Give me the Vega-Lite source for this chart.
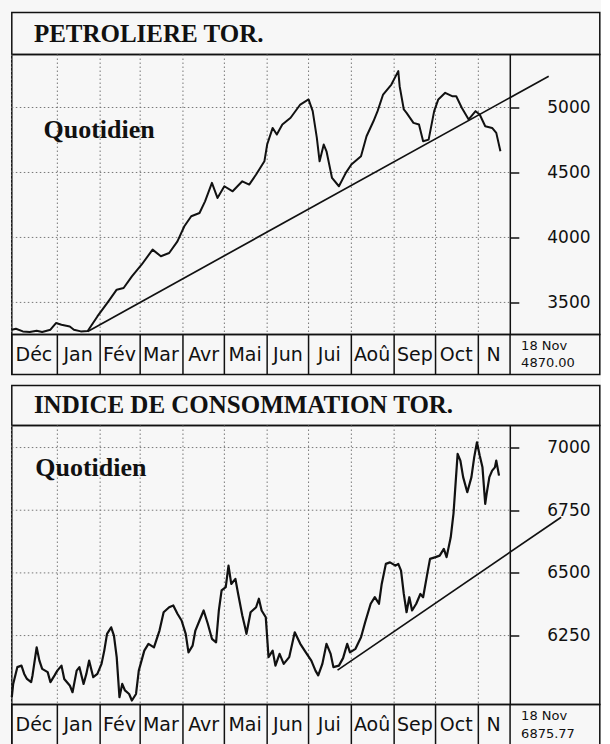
{
 "$schema": "https://vega.github.io/schema/vega-lite/v6.json",
 "background": "#f7f7f7",
 "padding": {"left": 9.8, "top": 11.5, "right": 0, "bottom": 0},
 "spacing": 8,
 "config": {"view": {"stroke": "#111", "strokeWidth": 1.5}},
 "datasets": {
  "months": [
   {"m": "Déc", "start": "1995-11-29", "mid": "1995-12-15"},
   {"m": "Jan", "start": "1996-01-01", "mid": "1996-01-16"},
   {"m": "Fév", "start": "1996-02-01", "mid": "1996-02-15"},
   {"m": "Mar", "start": "1996-03-01", "mid": "1996-03-16"},
   {"m": "Avr", "start": "1996-04-01", "mid": "1996-04-16"},
   {"m": "Mai", "start": "1996-05-01", "mid": "1996-05-16"},
   {"m": "Jun", "start": "1996-06-01", "mid": "1996-06-16"},
   {"m": "Jui", "start": "1996-07-01", "mid": "1996-07-16"},
   {"m": "Aoû", "start": "1996-08-01", "mid": "1996-08-16"},
   {"m": "Sep", "start": "1996-09-01", "mid": "1996-09-16"},
   {"m": "Oct", "start": "1996-10-01", "mid": "1996-10-16"},
   {"m": "N", "start": "1996-11-01", "mid": "1996-11-12"}
  ],
  "petro": [
   {"d": "1995-11-29", "v": 3290}, {"d": "1995-12-02", "v": 3297}, {"d": "1995-12-07", "v": 3277}, {"d": "1995-12-12", "v": 3272},
   {"d": "1995-12-17", "v": 3282}, {"d": "1995-12-21", "v": 3272}, {"d": "1995-12-27", "v": 3290}, {"d": "1995-12-31", "v": 3341},
   {"d": "1996-01-04", "v": 3328}, {"d": "1996-01-10", "v": 3315}, {"d": "1996-01-13", "v": 3290}, {"d": "1996-01-18", "v": 3277},
   {"d": "1996-01-23", "v": 3280}, {"d": "1996-01-30", "v": 3392}, {"d": "1996-02-07", "v": 3508}, {"d": "1996-02-13", "v": 3598},
   {"d": "1996-02-18", "v": 3611}, {"d": "1996-02-24", "v": 3700}, {"d": "1996-03-02", "v": 3790}, {"d": "1996-03-10", "v": 3906},
   {"d": "1996-03-16", "v": 3855}, {"d": "1996-03-22", "v": 3880}, {"d": "1996-03-28", "v": 3970}, {"d": "1996-04-02", "v": 4086},
   {"d": "1996-04-07", "v": 4163}, {"d": "1996-04-13", "v": 4188}, {"d": "1996-04-17", "v": 4278}, {"d": "1996-04-22", "v": 4420},
   {"d": "1996-04-26", "v": 4304}, {"d": "1996-05-01", "v": 4394}, {"d": "1996-05-07", "v": 4355}, {"d": "1996-05-14", "v": 4432},
   {"d": "1996-05-19", "v": 4407}, {"d": "1996-05-24", "v": 4484}, {"d": "1996-05-30", "v": 4586}, {"d": "1996-06-01", "v": 4715},
   {"d": "1996-06-05", "v": 4843}, {"d": "1996-06-08", "v": 4792}, {"d": "1996-06-12", "v": 4869}, {"d": "1996-06-18", "v": 4921},
   {"d": "1996-06-25", "v": 5023}, {"d": "1996-07-01", "v": 5062}, {"d": "1996-07-04", "v": 4972}, {"d": "1996-07-07", "v": 4767},
   {"d": "1996-07-09", "v": 4586}, {"d": "1996-07-12", "v": 4715}, {"d": "1996-07-14", "v": 4663}, {"d": "1996-07-18", "v": 4458},
   {"d": "1996-07-23", "v": 4394}, {"d": "1996-07-28", "v": 4497}, {"d": "1996-08-01", "v": 4561}, {"d": "1996-08-08", "v": 4625},
   {"d": "1996-08-12", "v": 4779}, {"d": "1996-08-17", "v": 4894}, {"d": "1996-08-20", "v": 4972}, {"d": "1996-08-24", "v": 5100},
   {"d": "1996-08-30", "v": 5177}, {"d": "1996-09-04", "v": 5280}, {"d": "1996-09-05", "v": 5164}, {"d": "1996-09-08", "v": 4985},
   {"d": "1996-09-10", "v": 4959}, {"d": "1996-09-15", "v": 4882}, {"d": "1996-09-19", "v": 4869}, {"d": "1996-09-22", "v": 4740},
   {"d": "1996-09-26", "v": 4753}, {"d": "1996-09-30", "v": 4972}, {"d": "1996-10-03", "v": 5062}, {"d": "1996-10-08", "v": 5113},
   {"d": "1996-10-13", "v": 5087}, {"d": "1996-10-16", "v": 5087}, {"d": "1996-10-20", "v": 4998}, {"d": "1996-10-25", "v": 4908},
   {"d": "1996-10-30", "v": 4972}, {"d": "1996-11-02", "v": 4946}, {"d": "1996-11-06", "v": 4856}, {"d": "1996-11-11", "v": 4843},
   {"d": "1996-11-14", "v": 4805}, {"d": "1996-11-17", "v": 4663}
  ],
  "petroTrend": [{"d": "1996-01-23", "v": 3277}, {"d": "1996-12-22", "v": 5241}],
  "conso": [
   {"d": "1995-11-29", "v": 6004}, {"d": "1995-11-30", "v": 6057}, {"d": "1995-12-03", "v": 6124}, {"d": "1995-12-06", "v": 6130},
   {"d": "1995-12-08", "v": 6097}, {"d": "1995-12-10", "v": 6077}, {"d": "1995-12-13", "v": 6064}, {"d": "1995-12-14", "v": 6091},
   {"d": "1995-12-17", "v": 6203}, {"d": "1995-12-19", "v": 6150}, {"d": "1995-12-21", "v": 6117}, {"d": "1995-12-25", "v": 6104},
   {"d": "1995-12-27", "v": 6064}, {"d": "1995-12-30", "v": 6091}, {"d": "1996-01-01", "v": 6110}, {"d": "1996-01-04", "v": 6130},
   {"d": "1996-01-06", "v": 6077}, {"d": "1996-01-10", "v": 6051}, {"d": "1996-01-12", "v": 6024}, {"d": "1996-01-15", "v": 6110},
   {"d": "1996-01-17", "v": 6124}, {"d": "1996-01-20", "v": 6057}, {"d": "1996-01-22", "v": 6097}, {"d": "1996-01-24", "v": 6150},
   {"d": "1996-01-27", "v": 6084}, {"d": "1996-01-30", "v": 6097}, {"d": "1996-02-02", "v": 6137}, {"d": "1996-02-04", "v": 6190},
   {"d": "1996-02-06", "v": 6257}, {"d": "1996-02-09", "v": 6283}, {"d": "1996-02-11", "v": 6250}, {"d": "1996-02-13", "v": 6164},
   {"d": "1996-02-15", "v": 6004}, {"d": "1996-02-17", "v": 6057}, {"d": "1996-02-19", "v": 6031}, {"d": "1996-02-22", "v": 6017},
   {"d": "1996-02-24", "v": 5991}, {"d": "1996-02-27", "v": 6017}, {"d": "1996-02-29", "v": 6110}, {"d": "1996-03-04", "v": 6190},
   {"d": "1996-03-07", "v": 6217}, {"d": "1996-03-11", "v": 6203}, {"d": "1996-03-15", "v": 6270}, {"d": "1996-03-18", "v": 6343},
   {"d": "1996-03-22", "v": 6363}, {"d": "1996-03-25", "v": 6370}, {"d": "1996-03-28", "v": 6337}, {"d": "1996-03-31", "v": 6310},
   {"d": "1996-04-03", "v": 6257}, {"d": "1996-04-05", "v": 6183}, {"d": "1996-04-08", "v": 6210}, {"d": "1996-04-10", "v": 6270},
   {"d": "1996-04-13", "v": 6310}, {"d": "1996-04-16", "v": 6350}, {"d": "1996-04-19", "v": 6297}, {"d": "1996-04-22", "v": 6237},
   {"d": "1996-04-25", "v": 6223}, {"d": "1996-04-27", "v": 6350}, {"d": "1996-04-29", "v": 6430}, {"d": "1996-05-02", "v": 6443},
   {"d": "1996-05-04", "v": 6529}, {"d": "1996-05-06", "v": 6456}, {"d": "1996-05-09", "v": 6476}, {"d": "1996-05-11", "v": 6416},
   {"d": "1996-05-14", "v": 6330}, {"d": "1996-05-16", "v": 6283}, {"d": "1996-05-17", "v": 6257}, {"d": "1996-05-20", "v": 6343},
   {"d": "1996-05-24", "v": 6363}, {"d": "1996-05-26", "v": 6397}, {"d": "1996-05-28", "v": 6350}, {"d": "1996-05-31", "v": 6323},
   {"d": "1996-06-02", "v": 6164}, {"d": "1996-06-05", "v": 6190}, {"d": "1996-06-07", "v": 6130}, {"d": "1996-06-10", "v": 6177},
   {"d": "1996-06-13", "v": 6137}, {"d": "1996-06-17", "v": 6164}, {"d": "1996-06-21", "v": 6263}, {"d": "1996-06-25", "v": 6217},
   {"d": "1996-06-29", "v": 6183}, {"d": "1996-07-03", "v": 6150}, {"d": "1996-07-06", "v": 6110}, {"d": "1996-07-08", "v": 6091},
   {"d": "1996-07-11", "v": 6137}, {"d": "1996-07-14", "v": 6217}, {"d": "1996-07-17", "v": 6177}, {"d": "1996-07-19", "v": 6124},
   {"d": "1996-07-23", "v": 6130}, {"d": "1996-07-26", "v": 6160}, {"d": "1996-07-29", "v": 6217}, {"d": "1996-07-31", "v": 6183},
   {"d": "1996-08-04", "v": 6197}, {"d": "1996-08-08", "v": 6243}, {"d": "1996-08-11", "v": 6303}, {"d": "1996-08-15", "v": 6377},
   {"d": "1996-08-18", "v": 6403}, {"d": "1996-08-21", "v": 6377}, {"d": "1996-08-23", "v": 6456}, {"d": "1996-08-26", "v": 6536},
   {"d": "1996-08-29", "v": 6542}, {"d": "1996-09-02", "v": 6529}, {"d": "1996-09-04", "v": 6536}, {"d": "1996-09-06", "v": 6509},
   {"d": "1996-09-08", "v": 6416}, {"d": "1996-09-10", "v": 6343}, {"d": "1996-09-12", "v": 6403}, {"d": "1996-09-14", "v": 6350},
   {"d": "1996-09-17", "v": 6377}, {"d": "1996-09-20", "v": 6416}, {"d": "1996-09-22", "v": 6403}, {"d": "1996-09-25", "v": 6496},
   {"d": "1996-09-27", "v": 6556}, {"d": "1996-10-01", "v": 6563}, {"d": "1996-10-04", "v": 6569}, {"d": "1996-10-07", "v": 6596},
   {"d": "1996-10-09", "v": 6563}, {"d": "1996-10-12", "v": 6642}, {"d": "1996-10-14", "v": 6736}, {"d": "1996-10-15", "v": 6815},
   {"d": "1996-10-17", "v": 6975}, {"d": "1996-10-19", "v": 6948}, {"d": "1996-10-21", "v": 6882}, {"d": "1996-10-24", "v": 6822},
   {"d": "1996-10-27", "v": 6882}, {"d": "1996-10-29", "v": 6961}, {"d": "1996-10-31", "v": 7021}, {"d": "1996-11-02", "v": 6968},
   {"d": "1996-11-04", "v": 6921}, {"d": "1996-11-06", "v": 6775}, {"d": "1996-11-07", "v": 6815}, {"d": "1996-11-09", "v": 6882},
   {"d": "1996-11-11", "v": 6908}, {"d": "1996-11-13", "v": 6921}, {"d": "1996-11-14", "v": 6948}, {"d": "1996-11-16", "v": 6888}
  ],
  "consoTrend": [{"d": "1996-07-22", "v": 6112}, {"d": "1996-12-31", "v": 6722}]
 },
 "vconcat": [
  {
   "spacing": 0,
   "bounds": "flush",
   "vconcat": [
    {
     "width": 588, "height": 42,
     "data": {"values": [{"t": "PETROLIERE TOR."}]},
     "mark": {"type": "text", "align": "left", "baseline": "middle", "font": "Liberation Serif", "fontWeight": "bold", "fontSize": 25, "color": "#111"},
     "encoding": {
      "x": {"datum": {"year": 1995, "month": 12, "date": 15, "utc": true}, "type": "temporal", "scale": {"type": "utc", "domain": [{"year": 1995, "month": 11, "date": 29, "utc": true}, {"year": 1997, "month": 1, "date": 28, "utc": true}]}, "axis": null},
      "y": {"datum": 0, "type": "quantitative", "scale": {"domain": [-1, 1]}, "axis": null},
      "text": {"field": "t", "type": "nominal"}
     }
    },
    {
     "width": 588, "height": 280,
     "layer": [
      {
       "data": {"name": "months"},
       "mark": {"type": "rule", "stroke": "#777", "strokeWidth": 1, "strokeDash": [1.5, 2.5]},
       "encoding": {"x": {"field": "start", "type": "temporal", "scale": {"type": "utc", "domain": [{"year": 1995, "month": 11, "date": 29, "utc": true}, {"year": 1997, "month": 1, "date": 28, "utc": true}]}, "axis": null}}
      },
      {
       "data": {"values": [{"v": 3500}, {"v": 4000}, {"v": 4500}, {"v": 5000}]},
       "mark": {"type": "rule", "stroke": "#777", "strokeWidth": 1, "strokeDash": [1.5, 2.5]},
       "encoding": {
        "x": {"datum": {"year": 1995, "month": 11, "date": 29, "utc": true}, "type": "temporal", "scale": {"type": "utc", "domain": [{"year": 1995, "month": 11, "date": 29, "utc": true}, {"year": 1997, "month": 1, "date": 28, "utc": true}]}, "axis": null},
        "x2": {"datum": {"year": 1996, "month": 11, "date": 24, "utc": true}},
        "y": {"field": "v", "type": "quantitative", "scale": {"domain": [3253, 5408], "nice": false, "zero": false}, "axis": {"orient": "right", "offset": -90, "values": [3500, 4000, 4500, 5000], "format": "d", "title": null, "grid": false, "domainColor": "#111", "domainWidth": 1.5, "tickColor": "#111", "tickSize": 9, "tickWidth": 1.5, "labelFont": "DejaVu Sans", "labelFontSize": 17, "labelColor": "#111", "labelPadding": 28, "labelFlush": false}}
       }
      },
      {
       "data": {"name": "petro"},
       "mark": {"type": "line", "stroke": "#111", "strokeWidth": 2, "strokeJoin": "round"},
       "encoding": {
        "x": {"field": "d", "type": "temporal", "scale": {"type": "utc", "domain": [{"year": 1995, "month": 11, "date": 29, "utc": true}, {"year": 1997, "month": 1, "date": 28, "utc": true}]}, "axis": null},
        "y": {"field": "v", "type": "quantitative", "scale": {"domain": [3253, 5408], "nice": false, "zero": false}, "axis": {"orient": "right", "offset": -90, "values": [3500, 4000, 4500, 5000], "format": "d", "title": null, "grid": false, "domainColor": "#111", "domainWidth": 1.5, "tickColor": "#111", "tickSize": 9, "tickWidth": 1.5, "labelFont": "DejaVu Sans", "labelFontSize": 17, "labelColor": "#111", "labelPadding": 28, "labelFlush": false}}
       }
      },
      {
       "data": {"name": "petroTrend"},
       "mark": {"type": "line", "stroke": "#111", "strokeWidth": 1.7, "strokeJoin": "round"},
       "encoding": {
        "x": {"field": "d", "type": "temporal", "scale": {"type": "utc", "domain": [{"year": 1995, "month": 11, "date": 29, "utc": true}, {"year": 1997, "month": 1, "date": 28, "utc": true}]}, "axis": null},
        "y": {"field": "v", "type": "quantitative", "scale": {"domain": [3253, 5408], "nice": false, "zero": false}, "axis": {"orient": "right", "offset": -90, "values": [3500, 4000, 4500, 5000], "format": "d", "title": null, "grid": false, "domainColor": "#111", "domainWidth": 1.5, "tickColor": "#111", "tickSize": 9, "tickWidth": 1.5, "labelFont": "DejaVu Sans", "labelFontSize": 17, "labelColor": "#111", "labelPadding": 28, "labelFlush": false}}
       }
      },
      {
       "data": {"values": [{"t": "Quotidien"}]},
       "mark": {"type": "text", "align": "left", "baseline": "alphabetic", "font": "Liberation Serif", "fontWeight": "bold", "fontSize": 26, "color": "#111"},
       "encoding": {
        "x": {"datum": {"year": 1995, "month": 12, "date": 22, "utc": true}, "type": "temporal", "scale": {"type": "utc", "domain": [{"year": 1995, "month": 11, "date": 29, "utc": true}, {"year": 1997, "month": 1, "date": 28, "utc": true}]}, "axis": null},
        "y": {"datum": 4767, "type": "quantitative", "scale": {"domain": [3253, 5408], "nice": false, "zero": false}, "axis": {"orient": "right", "offset": -90, "values": [3500, 4000, 4500, 5000], "format": "d", "title": null, "grid": false, "domainColor": "#111", "domainWidth": 1.5, "tickColor": "#111", "tickSize": 9, "tickWidth": 1.5, "labelFont": "DejaVu Sans", "labelFontSize": 17, "labelColor": "#111", "labelPadding": 28, "labelFlush": false}},
        "text": {"field": "t", "type": "nominal"}
       }
      }
     ]
    },
    {
     "width": 588, "height": 40,
     "layer": [
      {
       "data": {"name": "months"},
       "mark": {"type": "rule", "stroke": "#111", "strokeWidth": 1.5},
       "encoding": {"x": {"field": "start", "type": "temporal", "scale": {"type": "utc", "domain": [{"year": 1995, "month": 11, "date": 29, "utc": true}, {"year": 1997, "month": 1, "date": 28, "utc": true}]}, "axis": null}}
      },
      {
       "data": {"values": [{"lbl": "18 Nov\n4870.00"}]},
       "mark": {"type": "rule", "stroke": "#111", "strokeWidth": 1.5},
       "encoding": {"x": {"datum": {"year": 1996, "month": 11, "date": 24, "utc": true}, "type": "temporal", "scale": {"type": "utc", "domain": [{"year": 1995, "month": 11, "date": 29, "utc": true}, {"year": 1997, "month": 1, "date": 28, "utc": true}]}, "axis": null}}
      },
      {
       "data": {"name": "months"},
       "mark": {"type": "text", "baseline": "middle", "align": "center", "font": "DejaVu Sans", "fontSize": 19, "color": "#111"},
       "encoding": {
        "x": {"field": "mid", "type": "temporal", "scale": {"type": "utc", "domain": [{"year": 1995, "month": 11, "date": 29, "utc": true}, {"year": 1997, "month": 1, "date": 28, "utc": true}]}, "axis": null},
        "y": {"datum": 0, "type": "quantitative", "scale": {"domain": [-1, 1]}, "axis": null},
        "text": {"field": "m", "type": "nominal"}
       }
      },
      {
       "data": {"values": [{"lbl": "18 Nov\n4870.00"}]},
       "mark": {"type": "text", "baseline": "middle", "align": "left", "font": "DejaVu Sans", "fontSize": 13, "lineHeight": 18, "lineBreak": "\n", "dy": -9, "color": "#111"},
       "encoding": {
        "x": {"datum": {"year": 1996, "month": 12, "date": 2, "utc": true}, "type": "temporal", "scale": {"type": "utc", "domain": [{"year": 1995, "month": 11, "date": 29, "utc": true}, {"year": 1997, "month": 1, "date": 28, "utc": true}]}, "axis": null},
        "y": {"datum": 0, "type": "quantitative", "scale": {"domain": [-1, 1]}, "axis": null},
        "text": {"field": "lbl", "type": "nominal"}
       }
      }
     ]
    }
   ]
  },
  {
   "spacing": 0,
   "bounds": "flush",
   "vconcat": [
    {
     "width": 588, "height": 40,
     "data": {"values": [{"t": "INDICE DE CONSOMMATION TOR."}]},
     "mark": {"type": "text", "align": "left", "baseline": "middle", "font": "Liberation Serif", "fontWeight": "bold", "fontSize": 25, "color": "#111"},
     "encoding": {
      "x": {"datum": {"year": 1995, "month": 12, "date": 15, "utc": true}, "type": "temporal", "scale": {"type": "utc", "domain": [{"year": 1995, "month": 11, "date": 29, "utc": true}, {"year": 1997, "month": 1, "date": 28, "utc": true}]}, "axis": null},
      "y": {"datum": 0, "type": "quantitative", "scale": {"domain": [-1, 1]}, "axis": null},
      "text": {"field": "t", "type": "nominal"}
     }
    },
    {
     "width": 588, "height": 279,
     "layer": [
      {
       "data": {"name": "months"},
       "mark": {"type": "rule", "stroke": "#777", "strokeWidth": 1, "strokeDash": [1.5, 2.5]},
       "encoding": {"x": {"field": "start", "type": "temporal", "scale": {"type": "utc", "domain": [{"year": 1995, "month": 11, "date": 29, "utc": true}, {"year": 1997, "month": 1, "date": 28, "utc": true}]}, "axis": null}}
      },
      {
       "data": {"values": [{"v": 6250}, {"v": 6500}, {"v": 6750}, {"v": 7000}]},
       "mark": {"type": "rule", "stroke": "#777", "strokeWidth": 1, "strokeDash": [1.5, 2.5]},
       "encoding": {
        "x": {"datum": {"year": 1995, "month": 11, "date": 29, "utc": true}, "type": "temporal", "scale": {"type": "utc", "domain": [{"year": 1995, "month": 11, "date": 29, "utc": true}, {"year": 1997, "month": 1, "date": 28, "utc": true}]}, "axis": null},
        "x2": {"datum": {"year": 1996, "month": 11, "date": 24, "utc": true}},
        "y": {"field": "v", "type": "quantitative", "scale": {"domain": [5975, 7088], "nice": false, "zero": false}, "axis": {"orient": "right", "offset": -90, "values": [6250, 6500, 6750, 7000], "format": "d", "title": null, "grid": false, "domainColor": "#111", "domainWidth": 1.5, "tickColor": "#111", "tickSize": 9, "tickWidth": 1.5, "labelFont": "DejaVu Sans", "labelFontSize": 17, "labelColor": "#111", "labelPadding": 28, "labelFlush": false}}
       }
      },
      {
       "data": {"name": "conso"},
       "mark": {"type": "line", "stroke": "#111", "strokeWidth": 2.2, "strokeJoin": "round"},
       "encoding": {
        "x": {"field": "d", "type": "temporal", "scale": {"type": "utc", "domain": [{"year": 1995, "month": 11, "date": 29, "utc": true}, {"year": 1997, "month": 1, "date": 28, "utc": true}]}, "axis": null},
        "y": {"field": "v", "type": "quantitative", "scale": {"domain": [5975, 7088], "nice": false, "zero": false}, "axis": {"orient": "right", "offset": -90, "values": [6250, 6500, 6750, 7000], "format": "d", "title": null, "grid": false, "domainColor": "#111", "domainWidth": 1.5, "tickColor": "#111", "tickSize": 9, "tickWidth": 1.5, "labelFont": "DejaVu Sans", "labelFontSize": 17, "labelColor": "#111", "labelPadding": 28, "labelFlush": false}}
       }
      },
      {
       "data": {"name": "consoTrend"},
       "mark": {"type": "line", "stroke": "#111", "strokeWidth": 1.7, "strokeJoin": "round"},
       "encoding": {
        "x": {"field": "d", "type": "temporal", "scale": {"type": "utc", "domain": [{"year": 1995, "month": 11, "date": 29, "utc": true}, {"year": 1997, "month": 1, "date": 28, "utc": true}]}, "axis": null},
        "y": {"field": "v", "type": "quantitative", "scale": {"domain": [5975, 7088], "nice": false, "zero": false}, "axis": {"orient": "right", "offset": -90, "values": [6250, 6500, 6750, 7000], "format": "d", "title": null, "grid": false, "domainColor": "#111", "domainWidth": 1.5, "tickColor": "#111", "tickSize": 9, "tickWidth": 1.5, "labelFont": "DejaVu Sans", "labelFontSize": 17, "labelColor": "#111", "labelPadding": 28, "labelFlush": false}}
       }
      },
      {
       "data": {"values": [{"t": "Quotidien"}]},
       "mark": {"type": "text", "align": "left", "baseline": "alphabetic", "font": "Liberation Serif", "fontWeight": "bold", "fontSize": 26, "color": "#111"},
       "encoding": {
        "x": {"datum": {"year": 1995, "month": 12, "date": 16, "utc": true}, "type": "temporal", "scale": {"type": "utc", "domain": [{"year": 1995, "month": 11, "date": 29, "utc": true}, {"year": 1997, "month": 1, "date": 28, "utc": true}]}, "axis": null},
        "y": {"datum": 6888, "type": "quantitative", "scale": {"domain": [5975, 7088], "nice": false, "zero": false}, "axis": {"orient": "right", "offset": -90, "values": [6250, 6500, 6750, 7000], "format": "d", "title": null, "grid": false, "domainColor": "#111", "domainWidth": 1.5, "tickColor": "#111", "tickSize": 9, "tickWidth": 1.5, "labelFont": "DejaVu Sans", "labelFontSize": 17, "labelColor": "#111", "labelPadding": 28, "labelFlush": false}},
        "text": {"field": "t", "type": "nominal"}
       }
      }
     ]
    },
    {
     "width": 588, "height": 41,
     "layer": [
      {
       "data": {"name": "months"},
       "mark": {"type": "rule", "stroke": "#111", "strokeWidth": 1.5},
       "encoding": {"x": {"field": "start", "type": "temporal", "scale": {"type": "utc", "domain": [{"year": 1995, "month": 11, "date": 29, "utc": true}, {"year": 1997, "month": 1, "date": 28, "utc": true}]}, "axis": null}}
      },
      {
       "data": {"values": [{"lbl": "18 Nov\n6875.77"}]},
       "mark": {"type": "rule", "stroke": "#111", "strokeWidth": 1.5},
       "encoding": {"x": {"datum": {"year": 1996, "month": 11, "date": 24, "utc": true}, "type": "temporal", "scale": {"type": "utc", "domain": [{"year": 1995, "month": 11, "date": 29, "utc": true}, {"year": 1997, "month": 1, "date": 28, "utc": true}]}, "axis": null}}
      },
      {
       "data": {"name": "months"},
       "mark": {"type": "text", "baseline": "middle", "align": "center", "font": "DejaVu Sans", "fontSize": 19, "color": "#111"},
       "encoding": {
        "x": {"field": "mid", "type": "temporal", "scale": {"type": "utc", "domain": [{"year": 1995, "month": 11, "date": 29, "utc": true}, {"year": 1997, "month": 1, "date": 28, "utc": true}]}, "axis": null},
        "y": {"datum": 0, "type": "quantitative", "scale": {"domain": [-1, 1]}, "axis": null},
        "text": {"field": "m", "type": "nominal"}
       }
      },
      {
       "data": {"values": [{"lbl": "18 Nov\n6875.77"}]},
       "mark": {"type": "text", "baseline": "middle", "align": "left", "font": "DejaVu Sans", "fontSize": 13, "lineHeight": 18, "lineBreak": "\n", "dy": -9, "color": "#111"},
       "encoding": {
        "x": {"datum": {"year": 1996, "month": 12, "date": 2, "utc": true}, "type": "temporal", "scale": {"type": "utc", "domain": [{"year": 1995, "month": 11, "date": 29, "utc": true}, {"year": 1997, "month": 1, "date": 28, "utc": true}]}, "axis": null},
        "y": {"datum": 0, "type": "quantitative", "scale": {"domain": [-1, 1]}, "axis": null},
        "text": {"field": "lbl", "type": "nominal"}
       }
      }
     ]
    }
   ]
  }
 ]
}
